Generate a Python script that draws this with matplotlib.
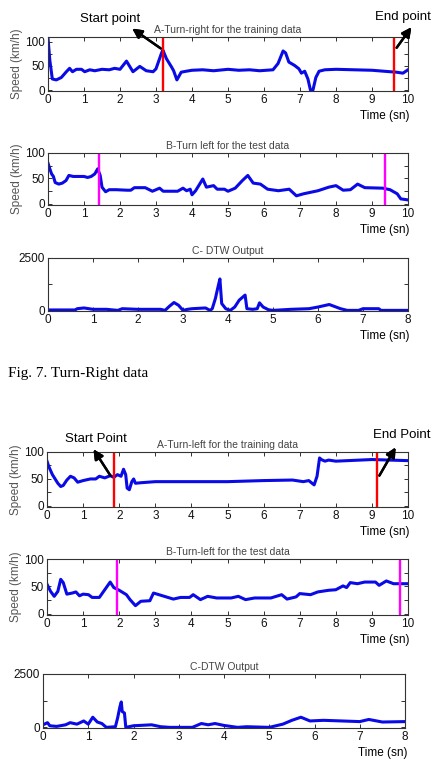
import matplotlib
matplotlib.use("Agg")
import matplotlib.pyplot as plt

plt.rcParams['font.family'] = ['Liberation Sans', 'DejaVu Sans']

# ---- Fig. 7 : Turn-right ----
t1 = [0, 0.05, 0.12, 0.23, 0.37, 0.51, 0.6, 0.68, 0.79, 0.93, 1.02, 1.16, 1.3, 1.5, 1.7, 1.85, 2.0,
      2.18, 2.27, 2.36, 2.55, 2.73, 2.92, 3.0, 3.15, 3.19, 3.29, 3.43, 3.49, 3.58, 3.7, 3.84,
      4.0, 4.3, 4.6, 5.0, 5.3, 5.6, 5.88, 6.25, 6.39, 6.53, 6.6, 6.69, 6.85, 6.97, 7.04, 7.13,
      7.22, 7.29, 7.36, 7.44, 7.53, 7.69, 8.0, 8.5, 9.0, 9.5, 9.68, 9.86, 10.0]
v1 = [108, 62, 23, 21, 26, 38, 45, 38, 43, 43, 38, 42, 40, 43, 42, 45, 43,
      60, 49, 38, 49, 40, 38, 44, 76, 83, 65, 48, 40, 21, 37, 39,
      41, 42, 40, 43, 41, 42, 40, 42, 55, 81, 77, 58, 51, 44, 35, 39,
      23, 0, 0, 26, 39, 42, 43, 42, 41, 38, 37, 35, 42]

t2 = [0, 0.05, 0.1, 0.15, 0.2, 0.3, 0.4, 0.5, 0.58, 0.7, 1.0, 1.1, 1.2, 1.3, 1.38, 1.45, 1.5, 1.6,
      1.7, 1.9, 2.2, 2.3, 2.4, 2.7, 2.9, 3.1, 3.2, 3.6, 3.75, 3.85, 3.95, 4.0, 4.1, 4.3, 4.4,
      4.6, 4.7, 4.9, 5.0, 5.2, 5.4, 5.55, 5.7, 5.9, 6.1, 6.4, 6.7, 6.9, 7.1, 7.5, 7.8, 8.0,
      8.2, 8.4, 8.6, 8.8, 9.3, 9.5, 9.7, 9.8, 10.0]
v2 = [80, 69, 59, 54, 42, 39, 41, 46, 56, 54, 54, 52, 54, 59, 69, 56, 33, 24,
      28, 28, 27, 27, 32, 32, 25, 31, 25, 25, 31, 26, 29, 18, 26, 49, 33,
      36, 29, 29, 25, 31, 46, 56, 41, 39, 29, 26, 29, 16, 20, 26, 33, 36,
      27, 28, 39, 32, 31, 28, 20, 10, 8]

t3 = [0, 0.6, 0.65, 0.8, 1.0, 1.3, 1.55, 1.65, 2.0, 2.5, 2.6, 2.7, 2.8, 2.9, 3.0, 3.1, 3.2, 3.5,
      3.6, 3.65, 3.72, 3.78, 3.82, 3.86, 3.95, 4.05, 4.15, 4.25, 4.38, 4.42, 4.55, 4.65, 4.7,
      4.78, 4.9, 5.0, 5.4, 5.8, 6.0, 6.25, 6.5, 6.65, 6.9, 7.0, 7.35, 7.4, 8.0]
v3 = [20, 20, 80, 115, 50, 50, 0, 80, 50, 50, 0, 200, 375, 245, 0, 50, 80, 115,
      0, 80, 570, 1140, 1500, 325, 80, 0, 160, 490, 730, 80, 50, 80, 360,
      160, 30, 0, 50, 80, 160, 280, 80, 0, 0, 80, 80, 0, 0]

# ---- Turn-left ----
t4 = [0, 0.05, 0.15, 0.3, 0.38, 0.45, 0.55, 0.65, 0.75, 0.85, 1.0, 1.2, 1.35, 1.45, 1.6, 1.75,
      1.85, 1.95, 2.05, 2.12, 2.18, 2.22, 2.28, 2.35, 2.4, 2.45, 2.6, 3.0, 4.0, 5.0, 6.0, 6.8,
      7.1, 7.25, 7.4, 7.48, 7.55, 7.6, 7.7, 7.8, 8.0, 9.0, 10.0]
v4 = [83, 73, 58, 42, 36, 38, 48, 55, 52, 44, 47, 50, 50, 55, 52, 56,
      53, 58, 55, 68, 58, 33, 30, 45, 50, 42, 43, 45, 45, 45, 47, 48,
      45, 47, 39, 55, 89, 86, 83, 85, 83, 86, 84]

t5 = [0, 0.1, 0.2, 0.3, 0.38, 0.45, 0.55, 0.7, 0.8, 0.9, 1.0, 1.15, 1.25, 1.45, 1.6, 1.75, 1.85,
      2.0, 2.2, 2.3, 2.45, 2.6, 2.85, 2.95, 3.1, 3.3, 3.5, 3.7, 3.95, 4.05, 4.25, 4.45, 4.7,
      5.1, 5.3, 5.5, 5.75, 6.2, 6.5, 6.65, 6.9, 7.0, 7.3, 7.5, 7.8, 8.0, 8.2, 8.3, 8.4, 8.6,
      8.8, 9.1, 9.2, 9.4, 9.6, 10.0]
v5 = [54, 41, 32, 41, 63, 57, 36, 38, 40, 33, 36, 35, 30, 30, 44, 58, 48,
      43, 35, 26, 15, 23, 24, 38, 35, 31, 27, 30, 30, 35, 26, 32, 29,
      29, 32, 26, 29, 29, 35, 27, 31, 37, 35, 40, 43, 44, 51, 48, 57, 55,
      58, 58, 52, 60, 55, 55]

t6 = [0, 0.1, 0.15, 0.3, 0.5, 0.6, 0.75, 0.9, 1.0, 1.1, 1.2, 1.3, 1.4, 1.6, 1.65, 1.7, 1.73,
      1.75, 1.8, 1.83, 2.0, 2.4, 2.6, 2.8, 3.3, 3.5, 3.65, 3.8, 4.0, 4.3, 4.5, 5.0, 5.3, 5.5,
      5.7, 5.9, 6.2, 6.6, 7.0, 7.2, 7.5, 8.0]
v6 = [120, 220, 75, 45, 120, 220, 150, 300, 150, 475, 250, 180, 0, 30, 450, 970, 1190,
      745, 670, 0, 75, 120, 30, 0, 0, 180, 120, 180, 90, 0, 30, 0, 150, 330,
      475, 300, 330, 300, 270, 370, 250, 270]

titles = ["A-Turn-right for the training data", "B-Turn left for the test data", "C- DTW Output",
          "A-Turn-left for the training data", "B-Turn-left for the test data", "C-DTW Output"]
marks = [[3.2, 9.6], [1.42, 9.35], [], [1.85, 9.15], [1.95, 9.78], []]
mark_colors = ['#ff0000', '#ff00ff', None, '#ff0000', '#ff00ff', None]
ts = [t1, t2, t3, t4, t5, t6]
vs = [v1, v2, v3, v4, v5, v6]

W, H = 432, 764
fig = plt.figure(figsize=(W / 100, H / 100), dpi=100)

# axes boxes in pixels: left, top, right, bottom
boxes = [(48, 37, 408, 91), (48, 153, 408, 205), (48, 258, 408, 311),
         (47, 452, 408, 507), (47, 559, 408, 615), (43, 674, 405, 728)]


def fx(x):
    return x / W


def fy(y):
    return 1 - y / H


for i, (l, tp, r, b) in enumerate(boxes):
    ax = fig.add_axes([fx(l), fy(b), (r - l) / W, (b - tp) / H])
    ax.plot(ts[i], vs[i], color='#0a0ae6', lw=2.2, solid_joinstyle='round')
    for m in marks[i]:
        ax.axvline(m, color=mark_colors[i], lw=1.7)
    if i % 3 == 2:
        ax.set_xlim(0, 8)
        ax.set_ylim(-30, 2500)
        ax.set_yticks([0, 1250, 2500])
        ax.set_yticklabels(['0', '', '2500'])
        ax.set_xticks(range(9))
    else:
        ax.set_xlim(0, 10)
        ax.set_ylim(-2, 110 if i == 0 else 100)
        ax.set_yticks([0, 25, 50, 75, 100])
        ax.set_yticklabels(['0', '', '50', '', '100'])
        ax.set_xticks(range(11))
        ax.set_ylabel('Speed (km/h)', color='#555555', fontsize=8.5, labelpad=2)
    ax.tick_params(direction='in', top=True, right=True, length=3, width=0.6,
                   labelsize=8.5, pad=2, colors='#111111')
    for s in ax.spines.values():
        s.set_linewidth(0.8)
        s.set_color('#333333')
    ax.set_title(titles[i], fontsize=7.5, color='#444444', pad=3)
    fig.text(fx(r + 2), fy(b + 25), 'Time (sn)', ha='right', va='center', fontsize=8.5)

# Start / end annotations
arrow = dict(arrowstyle='-|>', lw=1.7, color='black', mutation_scale=14)
fig.text(fx(110), fy(19), 'Start point', ha='center', va='center', fontsize=9.5)
fig.text(fx(403), fy(17), 'End point', ha='center', va='center', fontsize=9.5)
fig.text(fx(96), fy(439), 'Start Point', ha='center', va='center', fontsize=9.5)
fig.text(fx(402), fy(435), 'End Point', ha='center', va='center', fontsize=9.5)
fig.add_artist(plt.annotate('', xy=(fx(130), fy(27)), xytext=(fx(163), fy(50)),
                            xycoords='figure fraction', textcoords='figure fraction', arrowprops=arrow))
fig.add_artist(plt.annotate('', xy=(fx(413), fy(25)), xytext=(fx(395), fy(50)),
                            xycoords='figure fraction', textcoords='figure fraction', arrowprops=arrow))
fig.add_artist(plt.annotate('', xy=(fx(92), fy(447)), xytext=(fx(112), fy(478)),
                            xycoords='figure fraction', textcoords='figure fraction', arrowprops=arrow))
fig.add_artist(plt.annotate('', xy=(fx(397), fy(445)), xytext=(fx(378), fy(478)),
                            xycoords='figure fraction', textcoords='figure fraction', arrowprops=arrow))

fig.text(fx(8), fy(374), 'Fig. 7. Turn-Right data', ha='left', va='center', fontsize=11,
         family='Liberation Serif')

fig.savefig('out.png', dpi=100)
